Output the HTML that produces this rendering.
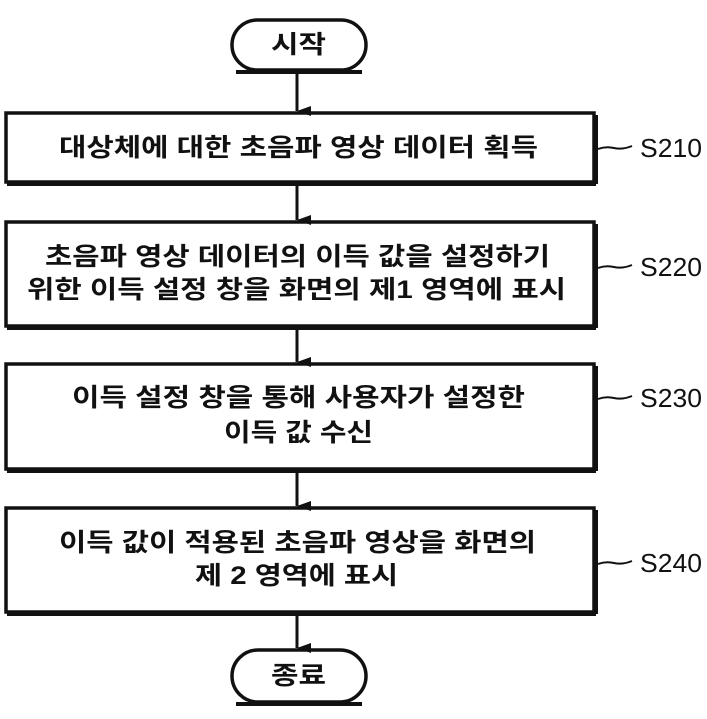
<!DOCTYPE html>
<html><head><meta charset="utf-8"><style>html,body{margin:0;padding:0;background:#fff}svg{display:block}</style></head>
<body>
<svg width="707" height="719" viewBox="0 0 707 719" xmlns="http://www.w3.org/2000/svg" font-family="'Liberation Sans','Noto Sans CJK KR',sans-serif" font-weight="bold" fill="#111">
<defs><marker id="a" markerWidth="10" markerHeight="14" refX="5" refY="14" orient="auto-start-reverse" markerUnits="userSpaceOnUse"><path d="M0,0 L10,0 L5,14 Z" fill="#111"/></marker></defs>
<g fill="none" stroke="#111" stroke-width="3.5">
<rect x="232" y="20" width="134" height="50" rx="25"/>
<rect x="6" y="113" width="588" height="69"/>
<rect x="6" y="222" width="588" height="104"/>
<rect x="6" y="364" width="588" height="105"/>
<rect x="6" y="508" width="588" height="104"/>
<rect x="232" y="650" width="134" height="52" rx="26"/>
</g>
<g stroke="#111" stroke-width="4">
<line x1="7" y1="184" x2="596" y2="184"/><line x1="596" y1="115" x2="596" y2="184"/>
<line x1="7" y1="328" x2="596" y2="328"/><line x1="596" y1="224" x2="596" y2="328"/>
<line x1="7" y1="471" x2="596" y2="471"/><line x1="596" y1="366" x2="596" y2="471"/>
<line x1="7" y1="614" x2="596" y2="614"/><line x1="596" y1="510" x2="596" y2="614"/>
<line x1="236" y1="72" x2="362" y2="72"/><line x1="236" y1="704" x2="362" y2="704"/>
</g>
<g stroke="#111" stroke-width="3">
<line x1="297" y1="72" x2="297" y2="111" marker-end="url(#a)"/>
<line x1="297" y1="186" x2="297" y2="220" marker-end="url(#a)"/>
<line x1="297" y1="330" x2="297" y2="362" marker-end="url(#a)"/>
<line x1="297" y1="473" x2="297" y2="506" marker-end="url(#a)"/>
<line x1="297" y1="616" x2="297" y2="648" marker-end="url(#a)"/>
</g>
<g fill="none" stroke="#111" stroke-width="2">
<path d="M598,149 q8,-3 16,-1 q8,2 18,-2"/>
<path d="M598,268 q8,-3 16,-1 q8,2 18,-2"/>
<path d="M598,399 q8,-3 16,-1 q8,2 18,-2"/>
<path d="M598,564 q8,-3 16,-1 q8,2 18,-2"/>
</g>
<g font-size="25" dominant-baseline="central">
<text x="271" y="45" textLength="55" lengthAdjust="spacingAndGlyphs">시작</text>
<text x="59" y="148" textLength="479" lengthAdjust="spacingAndGlyphs">대상체에 대한 초음파 영상 데이터 획득</text>
<text x="45" y="257" textLength="505" lengthAdjust="spacingAndGlyphs">초음파 영상 데이터의 이득 값을 설정하기</text>
<text x="27" y="290" textLength="539" lengthAdjust="spacingAndGlyphs">위한 이득 설정 창을 화면의 제1 영역에 표시</text>
<text x="72" y="398" textLength="453" lengthAdjust="spacingAndGlyphs">이득 설정 창을 통해 사용자가 설정한</text>
<text x="224" y="433" textLength="149" lengthAdjust="spacingAndGlyphs">이득 값 수신</text>
<text x="59" y="543" textLength="477" lengthAdjust="spacingAndGlyphs">이득 값이 적용된 초음파 영상을 화면의</text>
<text x="195" y="576" textLength="203" lengthAdjust="spacingAndGlyphs">제 2 영역에 표시</text>
<text x="271" y="676" textLength="55" lengthAdjust="spacingAndGlyphs">종료</text>
</g>
<g font-size="26" font-weight="normal" dominant-baseline="central">
<text x="640" y="148" textLength="62" lengthAdjust="spacingAndGlyphs">S210</text>
<text x="640" y="267" textLength="62" lengthAdjust="spacingAndGlyphs">S220</text>
<text x="640" y="398" textLength="62" lengthAdjust="spacingAndGlyphs">S230</text>
<text x="640" y="563" textLength="62" lengthAdjust="spacingAndGlyphs">S240</text>
</g>
</svg>
</body></html>
